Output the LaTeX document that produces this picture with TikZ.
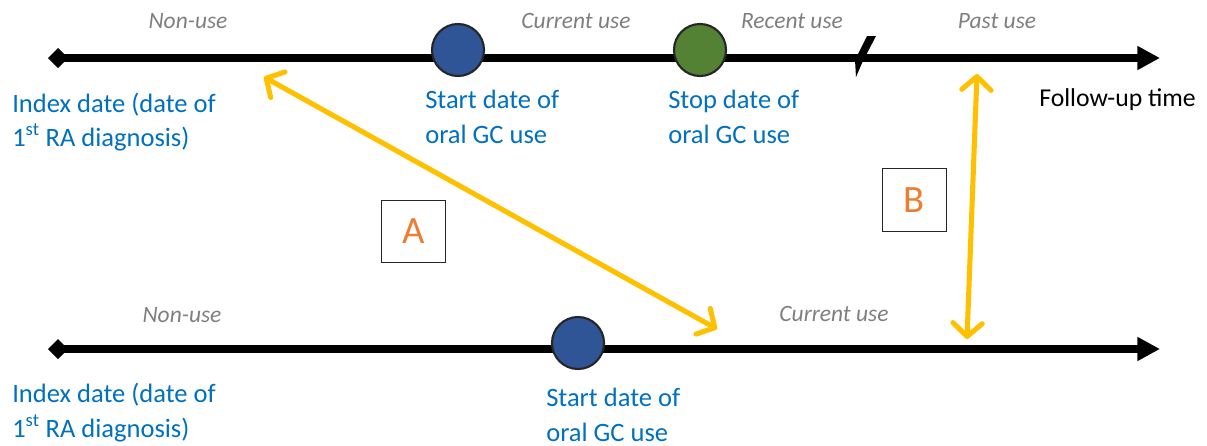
\documentclass[tikz,border=0pt]{standalone}
\usepackage{fontspec}
\setmainfont{Carlito}
\usetikzlibrary{arrows.meta}
\definecolor{txtblue}{HTML}{0070C0}
\definecolor{dotblue}{HTML}{2F5597}
\definecolor{dotgreen}{HTML}{548235}
\definecolor{periodgray}{HTML}{7F7F7F}
\definecolor{linkyellow}{HTML}{FFC000}
\definecolor{tagorange}{HTML}{ED7D31}
\begin{document}
\begin{tikzpicture}[x=0.75pt,y=-0.75pt,
  timeline/.style={line width=6pt,
    {Diamond[length=15pt,width=15pt]}-{Triangle[length=17pt,width=17pt]}},
  dot/.style={circle, draw=black!85, line width=1.6pt, minimum size=39pt, inner sep=0pt},
  eventlabel/.style={anchor=base west, inner sep=0pt, text=txtblue,
    font=\fontsize{19.9}{25}\selectfont},
  period/.style={anchor=base, inner sep=0pt, text=periodgray,
    font=\fontsize{17.6}{20}\selectfont\itshape},
  link/.style={draw=linkyellow, line width=3.8pt, line cap=round,
    {Straight Barb[length=10pt,width=22pt,line cap=round,line join=round]}-{Straight Barb[length=10pt,width=22pt,line cap=round,line join=round]}},
  tag/.style={draw=black!85, line width=0.8pt, minimum width=48pt, minimum height=47pt,
    inner sep=0pt, text=tagorange, font=\fontsize{29}{30}\selectfont},
]
\useasboundingbox (0,0) rectangle (1207,446);

% upper time axis
\coordinate (ua) at (48,58);
\coordinate (ub) at (1160,58);
\draw[timeline] (ua) -- (ub);
% axis break
\fill (867,36) -- (876,36) -- (862,63) -- (856,77) -- (855,60) -- cycle;

\node[dot, fill=dotblue]  (ustart) at (458,50) {};
\node[dot, fill=dotgreen] (ustop)  at (700,50) {};

\node[period] (unon)  at (188,28) {Non-use};
\node[period] (ucur)  at (576,28) {Current use};
\node[period] (urec)  at (792,28) {Recent use};
\node[period] (upast) at (997,28) {Past use};

\node[eventlabel] (uidxa) at (12,112) {Index date (date of};
\node[eventlabel] (uidxb) at (12,146) {1\textsuperscript{st} RA diagnosis)};
\node[eventlabel] (ustarta) at (425,108) {Start date of};
\node[eventlabel] (ustartb) at (425,143) {oral GC use};
\node[eventlabel] (ustopa) at (668,108) {Stop date of};
\node[eventlabel] (ustopb) at (668,143) {oral GC use};
\node[anchor=base west, inner sep=0pt, font=\fontsize{19.3}{24}\selectfont]
  (follow) at (1039,106) {Follow-up time};

% lower time axis
\coordinate (la) at (48,349);
\coordinate (lb) at (1160,349);
\draw[timeline] (la) -- (lb);

\node[dot, fill=dotblue] (lstart) at (578,343) {};

\node[period] (lnon) at (182,322) {Non-use};
\node[period] (lcur) at (834,321) {Current use};

\node[eventlabel] (lidxa) at (12,402) {Index date (date of};
\node[eventlabel] (lidxb) at (12,437) {1\textsuperscript{st} RA diagnosis)};
\node[eventlabel] (lstarta) at (546,406) {Start date of};
\node[eventlabel] (lstartb) at (546,441) {oral GC use};

% comparisons
\coordinate (aup) at (264,77);
\coordinate (alo) at (717,329);
\coordinate (bup) at (977,74);
\coordinate (blo) at (967,339);
\draw[link] (aup) -- (alo);
\draw[link] (bup) -- (blo);

\node[tag] (tagA) at (413.5,231.5) {A};
\node[tag] (tagB) at (914.5,200) {B};
\end{tikzpicture}
\end{document}
